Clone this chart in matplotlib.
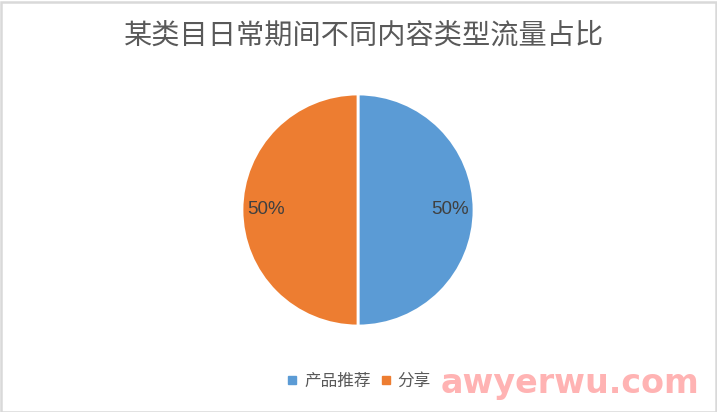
import matplotlib
matplotlib.use("Agg")
import matplotlib.pyplot as plt
from matplotlib.lines import Line2D
from matplotlib.patches import Rectangle

title = "某类目日常期间不同内容类型流量占比"
categories = ["产品推荐", "分享"]
values = [50, 50]
colors = ["#5B9BD5", "#ED7D31"]

plt.rcParams['font.family'] = ['Liberation Sans', 'Noto Sans CJK SC', 'DejaVu Sans']

W, H = 717, 412
fig = plt.figure(figsize=(W / 100, H / 100), dpi=100)
fig.patch.set_facecolor("white")

# border
fig.add_artist(Rectangle((0.5 / W, 0.5 / H), 1 - 2.0 / W, 1 - 2.0 / H, transform=fig.transFigure,
                         fill=False, edgecolor="#D9D9D9", linewidth=1.8))

cx, cy, r = 358, 210, 116
ax = fig.add_axes([(cx - r) / W, (H - cy - r) / H, 2 * r / W, 2 * r / H])
ax.pie(values, colors=colors, startangle=90, counterclock=False,
       autopct=lambda p: f"{p:.0f}%", pctdistance=0.79,
       wedgeprops=dict(edgecolor="white", linewidth=2),
       textprops=dict(color="#404040", fontsize=13.5))
ax.set_xlim(-1.0, 1.0)
ax.set_ylim(-1.0, 1.0)
ax.set_aspect("equal")
ax.axis("off")

fig.text(364 / W, 1 - 36 / H, title, ha="center", va="center", fontsize=20.3,
         color="#595959", family=['Noto Sans CJK SC', 'DejaVu Sans'])

handles = [Line2D([], [], marker="s", linestyle="none", markersize=5.5,
                  markerfacecolor=c, markeredgecolor=c) for c in colors]
leg = fig.legend(handles, categories, loc="center", bbox_to_anchor=(359 / W, 1 - 381 / H),
                 ncol=2, frameon=False, handlelength=0.6, handletextpad=0.4,
                 columnspacing=0.6, prop=dict(family=['Noto Sans CJK SC', 'DejaVu Sans'], size=12))
for t in leg.get_texts():
    t.set_color("#595959")

# watermark
fig.text(570 / W, 1 - 384 / H, "awyerwu.com", ha="center", va="center", fontsize=24,
         color="#FFB3B3", fontweight="bold", family="DejaVu Sans")

fig.savefig("out.png", dpi=100, facecolor="white")
